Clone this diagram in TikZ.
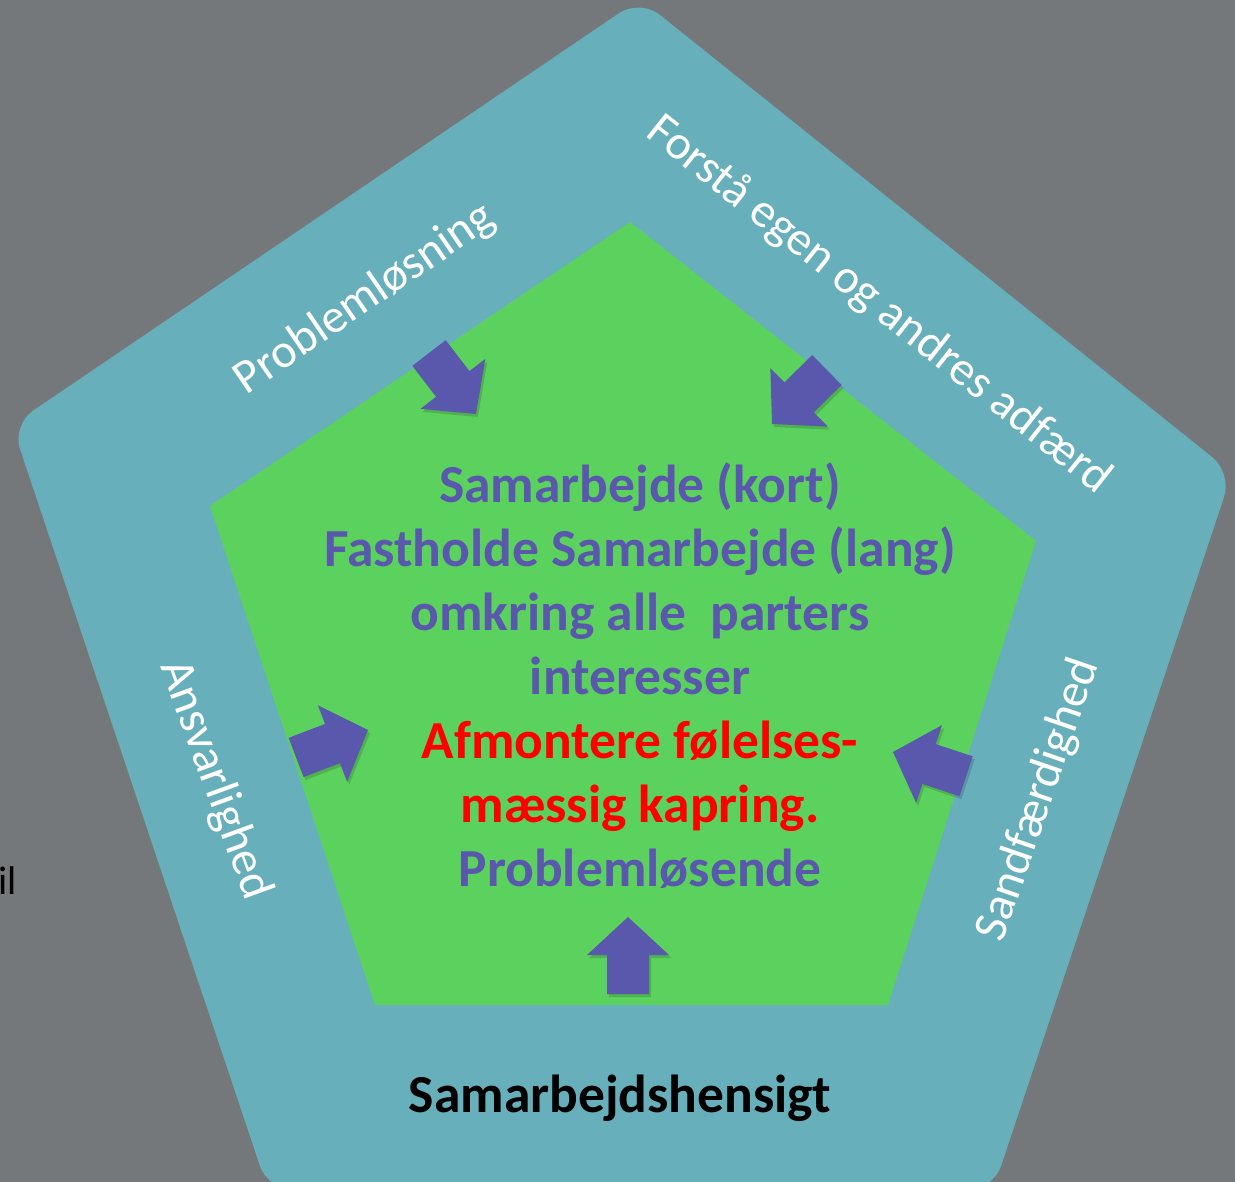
\documentclass[tikz,border=0pt]{standalone}
\usepackage{fontspec}
\setmainfont{Carlito}
\usetikzlibrary{calc}
\definecolor{bggray}{RGB}{117,120,123}
\definecolor{tealband}{RGB}{103,176,187}
\definecolor{innergreen}{RGB}{92,210,94}
\definecolor{arrowpurple}{RGB}{90,88,172}
\begin{document}
\begin{tikzpicture}[x=1pt,y=-1pt]
\tikzset{
  whitelabel/.style={text=white, font=\fontsize{48}{52}\selectfont, inner sep=0pt},
  bodytext/.style={font=\bfseries\fontsize{53.5}{64}\selectfont, inner sep=0pt, anchor=base, text=arrowpurple},
  redtext/.style={bodytext, text=red},
  blockarrow/.pic={\path[pic actions] (0,0) -- (-38,41) -- (-38,21) -- (-77,21) -- (-77,-21) -- (-38,-21) -- (-38,-41) -- cycle;}
}
\useasboundingbox (0,0) rectangle (1235,1182);
\clip (0,0) rectangle (1235,1182);
\fill[bggray] (0,0) rectangle (1235,1182);
% outer pentagon
\fill[tealband, rounded corners=25pt] (640,-1) -- (1232,473) -- (993,1190) -- (268,1190) -- (12,425) -- cycle;
% inner pentagon
\fill[innergreen] (630,222) -- (1036,541) -- (888,1005) -- (375,1005) -- (210,506) -- cycle;
% arrows
\foreach \tx/\ty/\a/\n in {476/414/-52.4/1, 772/424/-135.5/2, 368/730/20.9/3, 893/752/161.6/4, 628/917/90/5} {
  \coordinate (tip\n) at (\tx,\ty);
  \pic[rotate=\a, fill=black, opacity=0.15] at ($(tip\n)+(2,3)$) {blockarrow};
  \pic[rotate=\a, fill=arrowpurple] at (tip\n) {blockarrow};
}
% edge labels
\node[whitelabel, rotate=34.4] (lab1) at (365,299) {Problemløsning};
\node[whitelabel, rotate=-38.4] (lab2) at (879,305) {Forstå egen og andres adfærd};
\node[whitelabel, rotate=-70] (lab3) at (215,780) {Ansvarlighed};
\node[whitelabel, rotate=71] (lab4) at (1039,800) {Sandfærdighed};
% centre text
\node[bodytext] (l1) at (640,502) {Samarbejde (kort)};
\node[bodytext] (l2) at (640,566) {Fastholde Samarbejde (lang)};
\node[bodytext] (l3) at (640,630) {omkring alle\ \ parters};
\node[bodytext] (l4) at (640,694) {interesser};
\node[redtext] (l5) at (640,758) {Afmontere følelses-};
\node[redtext] (l6) at (640,822) {mæssig kapring.};
\node[bodytext] (l7) at (640,886) {Problemløsende};
% bottom
\node[font=\bfseries\fontsize{53.5}{64}\selectfont, anchor=base, inner sep=0pt, text=black] (bottom) at (620,1112) {Samarbejdshensigt};
\node[font=\fontsize{40}{48}\selectfont, anchor=base west, inner sep=0pt, text=black] (il) at (-2,894) {il};
\end{tikzpicture}
\end{document}
